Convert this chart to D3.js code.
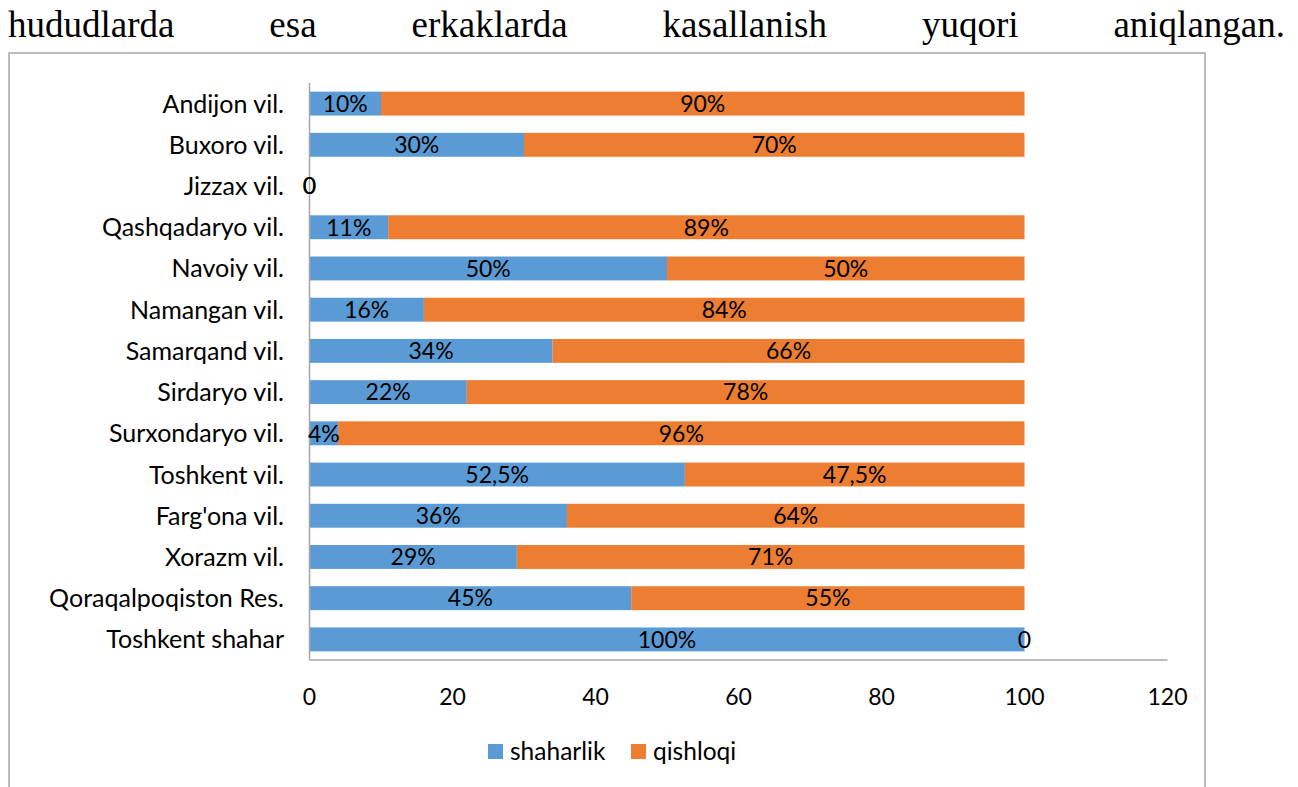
<html><head>
<meta charset="UTF-8">
<title>shaharlik / qishloqi</title>
<script src="https://cdn.jsdelivr.net/npm/d3@7"></script>
<style>
    body { margin: 0; background: #fff; }
    svg { display: block; }
    .lbl { font-family: Lato, "Open Sans", sans-serif; font-size: 23px; fill: #000; }
    .cat { font-size: 25px; }
    .leg { font-size: 24.5px; }
    .title { font-family: "Liberation Serif", "Times New Roman", serif; font-size: 37px; fill: #000; }
</style>
</head>
<body>
<svg id="chart" width="1298" height="787"></svg>
<script>
const regions = ["Andijon vil.", "Buxoro vil.", "Jizzax vil.", "Qashqadaryo vil.", "Navoiy vil.",
    "Namangan vil.", "Samarqand vil.", "Sirdaryo vil.", "Surxondaryo vil.", "Toshkent vil.",
    "Farg'ona vil.", "Xorazm vil.", "Qoraqalpoqiston Res.", "Toshkent shahar"];
const shaharlik = [10, 30, 0, 11, 50, 16, 34, 22, 4, 52.5, 36, 29, 45, 100];
const qishloqi = [90, 70, 0, 89, 50, 84, 66, 78, 96, 47.5, 64, 71, 55, 0];
const seriesNames = ["shaharlik", "qishloqi"];
const xTicks = [0, 20, 40, 60, 80, 100, 120];
const titleWords = ["hududlarda", "esa", "erkaklarda", "kasallanish", "yuqori", "aniqlangan."];

const colors = { shaharlik: "#5B9BD5", qishloqi: "#ED7D31" };
const svg = d3.select("#chart");

// justified text line above the chart
const tg = svg.append("g");
const words = tg.selectAll("text").data(titleWords).enter().append("text")
    .attr("class", "title").attr("y", 37).text(d => d);
const widths = [];
words.each(function() { widths.push(this.getComputedTextLength()); });
const left = 8, right = 1285;
const gap = (right - left - d3.sum(widths)) / (titleWords.length - 1);
let cx = left;
words.attr("x", (d, i) => { const x = cx; cx += widths[i] + gap; return x; });

// chart frame
svg.append("rect").attr("x", 9).attr("y", 53).attr("width", 1196).attr("height", 800)
    .attr("fill", "none").attr("stroke", "#A6A6A6").attr("stroke-width", 1.5);

const x = d3.scaleLinear().domain([0, 120]).range([309.5, 1167.5]);
const y = d3.scaleBand().domain(regions).range([83, 660]).paddingInner(0.42).paddingOuter(0.21);

const rows = regions.map((r, i) => ({ region: r, shaharlik: shaharlik[i], qishloqi: qishloqi[i] }));
const stacked = d3.stack().keys(seriesNames)(rows);

const fmt = v => v === 0 ? "0" : String(v).replace(".", ",") + "%";

stacked.forEach(s => {
    const g = svg.append("g");
    g.selectAll("rect").data(s).enter().append("rect")
        .attr("x", d => x(d[0]))
        .attr("y", d => y(d.data.region))
        .attr("width", d => x(d[1]) - x(d[0]))
        .attr("height", y.bandwidth())
        .attr("fill", colors[s.key]);
});

// axis lines
svg.append("line").attr("x1", x(0)).attr("x2", x(0)).attr("y1", 83).attr("y2", 660)
    .attr("stroke", "#A6A6A6").attr("stroke-width", 1.5);
svg.append("line").attr("x1", x(0)).attr("x2", x(120)).attr("y1", 660).attr("y2", 660)
    .attr("stroke", "#A6A6A6").attr("stroke-width", 1.5);

// data labels
stacked.forEach(s => {
    svg.append("g").selectAll("text").data(s).enter().append("text")
        .attr("class", "lbl")
        .attr("x", d => x((d[0] + d[1]) / 2))
        .attr("y", d => y(d.data.region) + y.bandwidth() / 2)
        .attr("dy", "0.36em")
        .attr("text-anchor", "middle")
        .text(d => fmt(d.data[s.key]));
});

// category labels
svg.append("g").selectAll("text").data(regions).enter().append("text")
    .attr("class", "lbl cat")
    .attr("x", 284)
    .attr("y", d => y(d) + y.bandwidth() / 2)
    .attr("dy", "0.36em")
    .attr("text-anchor", "end")
    .text(d => d);

// x tick labels
svg.append("g").selectAll("text").data(xTicks).enter().append("text")
    .attr("class", "lbl")
    .attr("x", d => x(d))
    .attr("y", 697)
    .attr("dy", "0.36em")
    .attr("text-anchor", "middle")
    .text(d => d);

// legend
const legend = svg.append("g");
const legX = [488, 631];
seriesNames.forEach((n, i) => {
    legend.append("rect").attr("x", legX[i]).attr("y", 744).attr("width", 15).attr("height", 15)
        .attr("fill", colors[n]);
    legend.append("text").attr("class", "lbl leg").attr("x", legX[i] + 22).attr("y", 751)
        .attr("dy", "0.36em").text(n);
});
</script>
</body></html>
